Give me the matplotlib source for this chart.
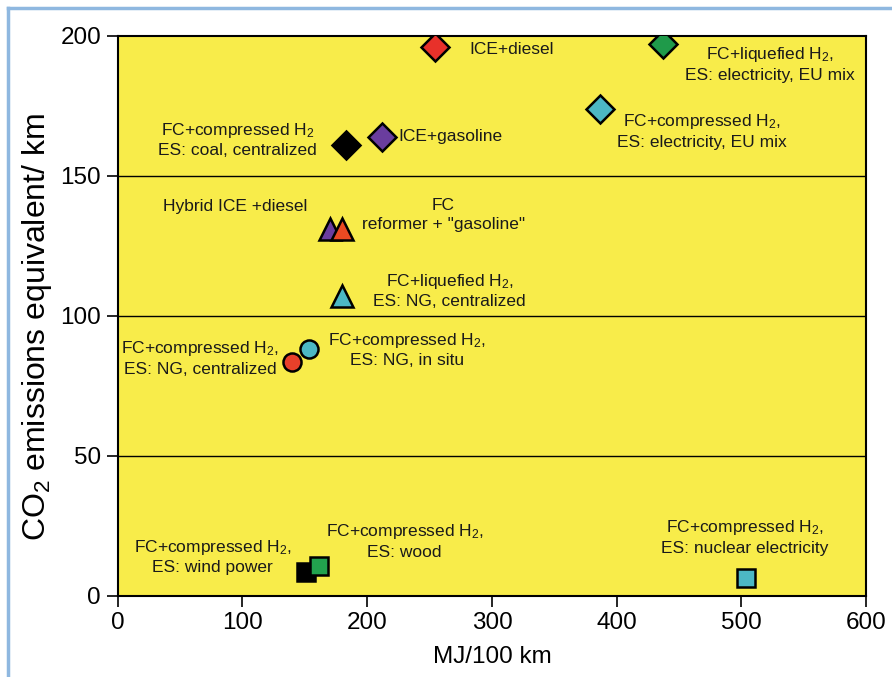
import matplotlib
matplotlib.use("Agg")
import matplotlib.pyplot as plt
from matplotlib.lines import Line2D

plt.rcParams['font.family'] = ['Liberation Sans', 'DejaVu Sans']
plt.rcParams['mathtext.fontset'] = 'custom'
plt.rcParams['mathtext.rm'] = 'Liberation Sans'
plt.rcParams['mathtext.it'] = 'Liberation Sans'

# energy use (MJ/100 km) and CO2 emissions (g/km) per pathway
energy = [254, 437, 387, 183, 212, 170, 180, 180, 153, 140, 151, 161, 504]
co2 = [196, 197, 174, 161, 164, 131, 131, 107, 88, 83.5, 8.5, 10.5, 6.5]
markers = ['D', 'D', 'D', 'D', 'D', '^', '^', '^', 'o', 'o', 's', 's', 's']
colors = ['#e8312a', '#1f9a4a', '#4cb8c4', '#000000', '#6a3d9e', '#6a3d9e',
          '#ea4a22', '#4cb8c4', '#4cb8c4', '#e8402a', '#000000', '#22a24e',
          '#4cb8c4']

# labels: text, x, y, horizontal alignment
labels = [
    ("ICE+diesel", 282, 195, 'left'),
    ("FC+liquefied H$_2$,\nES: electricity, EU mix", 523, 190, 'center'),
    ("FC+compressed H$_2$,\nES: electricity, EU mix", 468, 166, 'center'),
    ("FC+compressed H$_2$\nES: coal, centralized", 96, 163, 'center'),
    ("ICE+gasoline", 225, 164, 'left'),
    ("Hybrid ICE +diesel", 94, 139, 'center'),
    ("FC\nreformer + \"gasoline\"", 261, 136, 'center'),
    ("FC+liquefied H$_2$,\nES: NG, centralized", 266, 109, 'center'),
    ("FC+compressed H$_2$,\nES: NG, centralized", 66, 85, 'center'),
    ("FC+compressed H$_2$,\nES: NG, in situ", 232, 88, 'center'),
    ("FC+compressed H$_2$,\nES: wind power", 76, 14, 'center'),
    ("FC+compressed H$_2$,\nES: wood", 230, 19.5, 'center'),
    ("FC+compressed H$_2$,\nES: nuclear electricity", 503, 21, 'center'),
]

sizes = {'D': 14, '^': 16, 'o': 13, 's': 13.5}

fig = plt.figure(figsize=(8.92, 6.77), dpi=100)
ax = fig.add_axes([0.132, 0.12, 0.839, 0.827])
ax.set_facecolor('#f8ec4a')

for yv in [50, 100, 150]:
    ax.axhline(yv, color='black', lw=1, zorder=1)

for i in range(len(energy)):
    ax.plot(energy[i], co2[i], linestyle='none', marker=markers[i],
            markersize=sizes[markers[i]], markerfacecolor=colors[i],
            markeredgecolor='black', markeredgewidth=1.8, zorder=3 + i)

for txt, lx, ly, ha in labels:
    ax.text(lx, ly, txt, ha=ha, va='center', fontsize=12.5,
            linespacing=1.3, color='#1a1a1a', zorder=2)

ax.set_xlim(0, 600)
ax.set_ylim(0, 200)
ax.set_xticks(range(0, 601, 100))
ax.set_yticks(range(0, 201, 50))
ax.tick_params(direction='out', length=8, width=1.2, labelsize=17.5,
               top=False, right=False, pad=4)
for s in ax.spines.values():
    s.set_linewidth(1.5)

ax.set_xlabel("MJ/100 km", fontsize=17.5, labelpad=8)
ax.set_ylabel("CO$_2$ emissions equivalent/ km", fontsize=23)
ax.yaxis.set_label_coords(-0.085, 0.48)

# light blue frame around the figure
fig.add_artist(Line2D([0.009, 0.009], [0, 0.988], color='#8fb8e0', lw=2.5,
                      transform=fig.transFigure))
fig.add_artist(Line2D([0.009, 1.0], [0.988, 0.988], color='#8fb8e0', lw=2.5,
                      transform=fig.transFigure))

fig.savefig('out.png', dpi=100)
